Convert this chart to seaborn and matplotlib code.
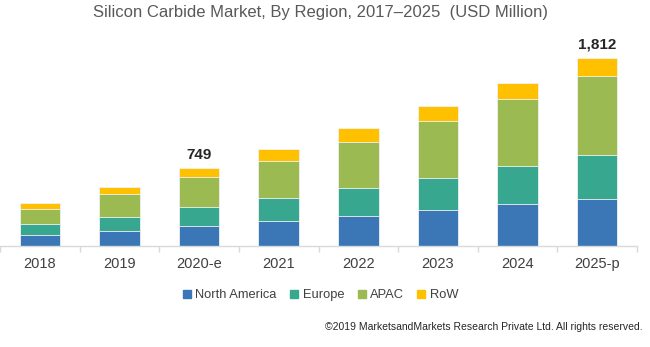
import matplotlib
matplotlib.use("Agg")
import matplotlib.pyplot as plt
import seaborn as sns
import numpy as np
import pandas as pd
from matplotlib.lines import Line2D

years = ["2018", "2019", "2020-e", "2021", "2022", "2023", "2024", "2025-p"]
north_america = [106, 147, 191, 240, 286, 346, 401, 452]
europe = [106, 135, 181, 221, 275, 311, 366, 420]
apac = [144, 221, 289, 359, 443, 548, 650, 767]
row = [61, 64, 88, 110, 132, 141, 154, 173]
regions = ["North America", "Europe", "APAC", "RoW"]
colors = ["#3B77B7", "#37A78F", "#9CBA52", "#FFC000"]
labels = {"2020-e": "749", "2025-p": "1,812"}

sns.set_theme(style="white")
plt.rcParams["font.family"] = ["Liberation Sans", "DejaVu Sans"]

fig = plt.figure(figsize=(6.5, 3.47), dpi=100)
ax = fig.add_axes([0.0, 101 / 347, 637 / 650, 216 / 347])

series = [north_america, europe, apac, row]
cum = np.cumsum(np.array(series), axis=0)
# draw from top of stack down so each lower segment covers the one above
for i in range(len(series) - 1, -1, -1):
    df = pd.DataFrame({"year": years, "value": cum[i]})
    sns.barplot(data=df, x="year", y="value", color=colors[i], width=0.51,
                saturation=1, edgecolor="#F2F2F2", linewidth=0.6, ax=ax)

totals = cum[-1]
for j, y in enumerate(years):
    if y in labels:
        ax.text(j, totals[j] + 55, labels[y], ha="center", va="bottom",
                fontsize=11, fontweight="bold", color="#262626")

ax.set_xlim(-0.5, len(years) - 0.5)
ax.set_ylim(0, 216 * 9.62)
ax.set_xlabel("")
ax.set_ylabel("")
ax.set_yticks([])
for s in ["top", "right", "left"]:
    ax.spines[s].set_visible(False)
ax.spines["bottom"].set_color("#D9D9D9")
ax.spines["bottom"].set_linewidth(1)
ax.set_xticks(range(len(years)))
ax.set_xticklabels(years, fontsize=10.5, color="#404040")
ax.tick_params(axis="x", which="major", length=0, pad=8)
ax.set_xticks(np.arange(-0.5, len(years), 1.0), minor=True)
ax.tick_params(axis="x", which="minor", length=4, color="#D9D9D9", bottom=True)

fig.text(0.493, 0.965, "Silicon Carbide Market, By Region, 2017\u20132025  (USD Million)",
         ha="center", va="center", fontsize=12, color="#595959")

handles = [Line2D([0], [0], marker="s", linestyle="", markersize=5.5,
                  markerfacecolor=c, markeredgecolor=c) for c in colors]
fig.legend(handles, regions, loc="center", bbox_to_anchor=(0.493, 1 - 295 / 347),
           ncol=4, frameon=False, fontsize=9.3, handlelength=0.7, handletextpad=0.3,
           columnspacing=1.0, labelcolor="#404040")

fig.text(643 / 650, 1 - 327 / 347,
         "\u00a92019 MarketsandMarkets Research Private Ltd. All rights reserved.",
         ha="right", va="center", fontsize=7.5, color="#262626")

fig.savefig("out.png", dpi=100)
